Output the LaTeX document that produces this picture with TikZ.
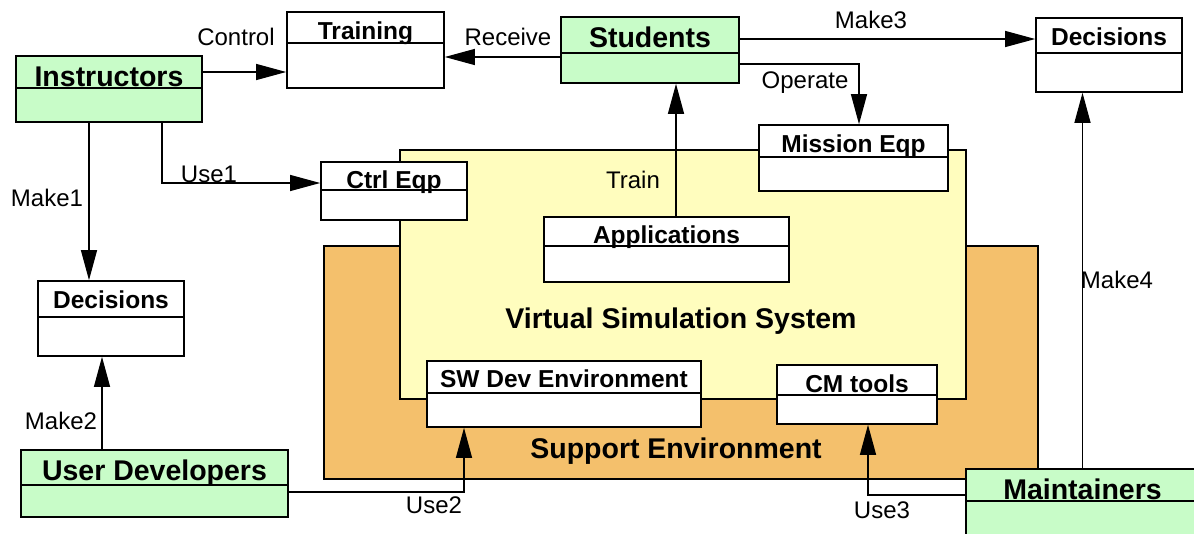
\documentclass[tikz,border=0pt]{standalone}
\usepackage{fontspec}
\setmainfont{Liberation Sans}
\usepackage{xcolor}
\usetikzlibrary{arrows.meta, fit}
\definecolor{actorgreen}{RGB}{200,252,200}
\definecolor{simyellow}{RGB}{255,253,190}
\definecolor{suporange}{RGB}{244,192,108}
% class box: name, style, left, top, right, bottom, divider, baseline, title
\newcommand{\umlbox}[9]{%
  \node[#2, fit={(#3,#4) (#5,#6)}] (#1) {};
  \draw[divline] (#1.west |- 0,#7) -- (#1.east |- 0,#7);
  \node[#2 title, anchor=base] (#1-t) at (#1.center |- 0,#8) {#9};
}

\begin{document}
\begin{tikzpicture}[x=1pt, y=-1pt,
    entity/.style={draw, fill=white, line width=1.6pt, inner sep=0pt},
    actor/.style={entity, fill=actorgreen},
    entity title/.style={font=\fontsize{24.5}{27}\selectfont\bfseries, inner sep=0pt},
    actor title/.style={font=\fontsize{28.5}{31}\selectfont\bfseries, inner sep=0pt},
    divline/.style={line width=1.4pt},
    region/.style={draw, line width=1.6pt},
    regiontitle/.style={font=\fontsize{28.5}{31}\selectfont\bfseries, inner sep=0pt},
    conn/.style={draw, line width=1.2pt, -{Triangle[length=30pt, width=16pt]}},
    lbl/.style={font=\fontsize{24}{26}\selectfont, inner sep=0pt}]
  \clip (0,0) rectangle (1194,533);

  % the two environments
  \draw[region, fill=suporange] (324,246) rectangle (1038,479);
  \draw[region, fill=simyellow] (400,150) rectangle (966,399);
  \node[regiontitle] (vss) at (681,321) {Virtual Simulation System};
  \node[regiontitle] (supp) at (676,451) {Support Environment};

  % classes
  \umlbox{instr}{actor}{16}{56}{202}{122}{88}{86}{Instructors}
  \umlbox{train}{entity}{287}{12}{444}{88}{43}{39}{Training}
  \umlbox{stud}{actor}{561}{17}{739}{83}{53}{47}{Students}
  \umlbox{decr}{entity}{1036}{18}{1182}{92}{53}{45}{Decisions}
  \umlbox{miss}{entity}{759}{125}{948}{191}{157}{152}{Mission Eqp}
  \umlbox{ctrl}{entity}{321}{162}{467}{220}{190}{188}{Ctrl Eqp}
  \umlbox{app}{entity}{544}{217}{789}{282}{246}{243}{Applications}
  \umlbox{decl}{entity}{38}{281}{184}{356}{317}{308}{Decisions}
  \umlbox{swdev}{entity}{427}{361}{701}{427}{393}{387}{SW Dev Environment}
  \umlbox{cm}{entity}{777}{365}{937}{424}{395}{392}{CM tools}
  \umlbox{udev}{actor}{21}{450}{288}{517}{485}{480}{User Developers}
  \umlbox{maint}{actor}{966}{469}{1199}{536}{501}{499}{Maintainers}

  % associations
  \draw[conn] (instr.east |- 0,72) -- (train.west |- 0,72);
  \node[lbl] (lcontrol) at (236,37) {Control};
  \draw[conn] (stud.west |- 0,57) -- (train.east |- 0,57);
  \node[lbl] (lreceive) at (508,37) {Receive};
  \draw[conn] (stud.east |- 0,39) -- (decr.west |- 0,39);
  \node[lbl] (lmake3) at (871,20) {Make3};
  \draw[conn] (stud.east |- 0,64) -| (miss.north -| 859,0);
  \node[lbl] (loperate) at (805,83) {Operate};
  \draw[conn] (app.north -| 676,0) -- (stud.south -| 676,0);
  \node[lbl] (ltrain) at (633,180) {Train};
  \draw[conn] (instr.south -| 162,0) |- (ctrl.west |- 0,183);
  \node[lbl] (luse1) at (209,174) {Use1};
  \draw[conn] (instr.south -| 89,0) -- (decl.north -| 89,0);
  \node[lbl] (lmake1) at (47,198) {Make1};
  \draw[conn] (udev.north -| 102,0) -- (decl.south -| 102,0);
  \node[lbl] (lmake2) at (61,421) {Make2};
  \draw[conn] (udev.east |- 0,492) -| (swdev.south -| 464,0);
  \node[lbl] (luse2) at (434,505) {Use2};
  \draw[conn] (maint.west |- 0,495) -| (cm.south -| 868,0);
  \node[lbl] (luse3) at (882,510) {Use3};
  \draw[conn] (maint.north) -- (decr.south -| maint.north);
  \node[lbl] (lmake4) at (1117,280) {Make4};
\end{tikzpicture}
\end{document}
